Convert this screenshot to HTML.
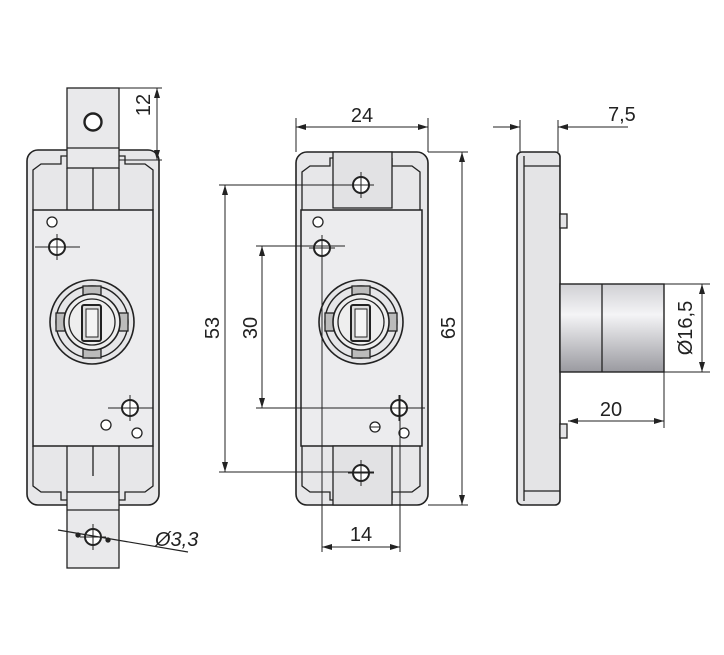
<!DOCTYPE html>
<html><head><meta charset="utf-8"><style>
html,body{margin:0;padding:0;background:#fff}
svg{display:block}
text{font-family:"Liberation Sans",sans-serif;font-size:20px;fill:#222}
</style></head><body>
<svg width="724" height="655" viewBox="0 0 724 655" xmlns="http://www.w3.org/2000/svg">
<defs>
<marker id="a" viewBox="0 0 10 6" refX="10" refY="3" markerWidth="10" markerHeight="6" orient="auto-start-reverse" markerUnits="userSpaceOnUse"><path d="M0,0 L10,3 L0,6z" fill="#222"/></marker>
<linearGradient id="cyl" x1="0" y1="0" x2="0" y2="1"><stop offset="0" stop-color="#d0d0d4"/><stop offset="0.35" stop-color="#f4f4f6"/><stop offset="1" stop-color="#9a9aa0"/></linearGradient>
<g id="lock">
<circle r="42" fill="#e6e6e8" stroke="#222" stroke-width="1.6"/>
<circle r="36" fill="none" stroke="#222" stroke-width="1.4"/>
<rect x="-9" y="-36" width="18" height="9" fill="#bbb" stroke="#222" stroke-width="1.3"/>
<rect x="-9" y="27" width="18" height="9" fill="#bbb" stroke="#222" stroke-width="1.3"/>
<rect x="-36" y="-9" width="9" height="18" fill="#bbb" stroke="#222" stroke-width="1.3"/>
<rect x="27" y="-9" width="9" height="18" fill="#bbb" stroke="#222" stroke-width="1.3"/>
<circle r="28" fill="#eee" stroke="#222" stroke-width="1.6"/>
<circle r="23" fill="none" stroke="#222" stroke-width="1.3"/>
<rect x="-10" y="-17" width="19" height="36" rx="2" fill="#ddd" stroke="#222" stroke-width="2"/>
<rect x="-6" y="-13" width="12" height="28" fill="#f4f4f4" stroke="#222" stroke-width="1"/>
</g>
<g id="hole"><circle r="8" fill="#fff" stroke="#222" stroke-width="2"/><line x1="-13" y1="0" x2="13" y2="0" stroke="#222" stroke-width="1"/><line x1="0" y1="-13" x2="0" y2="13" stroke="#222" stroke-width="1"/></g>
</defs>
<g stroke="#222" fill="none" stroke-width="1.3">
<!-- LEFT VIEW -->
<rect x="27" y="150" width="132" height="355" rx="11" fill="#e7e7e9" stroke-width="1.6"/>
<path d="M33,210 V170 l8,-6 h20 v-8 h6 M119,156 h6 v8 h20 l8,6 V210"/>
<rect x="67" y="88" width="52" height="80" fill="#e9e9eb"/>
<line x1="67" y1="148" x2="119" y2="148"/>
<path d="M67,168 V210 M119,168 V210 M93,168 V210"/>
<circle cx="93" cy="122" r="8.5" fill="#fff" stroke-width="2.4"/>
<rect x="33" y="210" width="120" height="236" fill="#ececee" stroke-width="1.5"/>
<path d="M33,446 V486 l8,6 h20 v8 h6 M119,500 h6 v-8 h20 l8,-6 V446"/>
<path d="M93,446 v30 M67,446 v46 M119,446 v46"/>
<rect x="67" y="492" width="52" height="76" fill="#e9e9eb"/>
<line x1="67" y1="510" x2="119" y2="510"/>
<circle cx="52" cy="222" r="5" fill="#fff"/>
<use href="#hole" x="57" y="247"/>
<line x1="35" y1="247" x2="80" y2="247" stroke-width="1"/>
<use href="#lock" x="92" y="322"/>
<use href="#hole" x="130" y="408"/>
<line x1="108" y1="408" x2="153" y2="408" stroke-width="1"/>
<circle cx="106" cy="425" r="5" fill="#fff"/>
<circle cx="137" cy="433" r="5" fill="#fff"/>
<use href="#hole" x="93" y="537"/>
<line x1="58" y1="530" x2="188" y2="552" stroke-width="1.2"/>
<circle cx="78" cy="535" r="2" fill="#222"/><circle cx="108" cy="540" r="2" fill="#222"/>
<!-- 12 dim -->
<line x1="119" y1="88" x2="162" y2="88" stroke-width="1"/>
<line x1="119" y1="160" x2="162" y2="160" stroke-width="1"/>
<line x1="157" y1="88" x2="157" y2="160" stroke-width="1" marker-start="url(#a)" marker-end="url(#a)"/>

<!-- MIDDLE VIEW -->
<rect x="296" y="152" width="132" height="353" rx="11" fill="#e7e7e9" stroke-width="1.6"/>
<path d="M302,210 V172 l8,-6 h20 v-8 h5 M392,158 v8 h20 l8,6 V210"/>
<rect x="333" y="152" width="59" height="56" fill="#e2e2e4"/>
<rect x="301" y="210" width="121" height="236" fill="#ececee" stroke-width="1.5"/>
<path d="M302,446 V486 l8,6 h20 v8 h5 M392,500 v-8 h20 l8,-6 V446"/>
<rect x="333" y="446" width="59" height="59" fill="#e2e2e4"/>
<circle cx="318" cy="222" r="5" fill="#fff"/>
<use href="#hole" x="322" y="248"/>
<use href="#lock" x="361" y="322"/>
<use href="#hole" x="399" y="408"/>
<circle cx="375" cy="427" r="5" fill="#fff"/><line x1="370" y1="427" x2="380" y2="427" stroke-width="1"/>
<circle cx="404" cy="433" r="5" fill="#fff"/>
<use href="#hole" x="361" y="185"/>
<use href="#hole" x="361" y="473"/>
<g stroke-width="1">
<line x1="296" y1="118" x2="296" y2="152"/><line x1="428" y1="118" x2="428" y2="152"/>
<line x1="296" y1="127" x2="428" y2="127" marker-start="url(#a)" marker-end="url(#a)"/>
<line x1="428" y1="152" x2="468" y2="152"/><line x1="428" y1="505" x2="468" y2="505"/>
<line x1="462" y1="152" x2="462" y2="505" marker-start="url(#a)" marker-end="url(#a)"/>
<line x1="219" y1="185" x2="374" y2="185"/><line x1="219" y1="472" x2="374" y2="472"/>
<line x1="225" y1="185" x2="225" y2="472" marker-start="url(#a)" marker-end="url(#a)"/>
<line x1="256" y1="246" x2="345" y2="246"/><line x1="256" y1="408" x2="425" y2="408"/>
<line x1="262" y1="246" x2="262" y2="408" marker-start="url(#a)" marker-end="url(#a)"/>
<line x1="322" y1="248" x2="322" y2="552"/><line x1="400" y1="395" x2="400" y2="552"/>
<line x1="322" y1="547" x2="400" y2="547" marker-start="url(#a)" marker-end="url(#a)"/>
</g>

<!-- RIGHT VIEW -->
<rect x="517" y="152" width="43" height="353" rx="5" fill="#e4e4e6" stroke-width="1.6"/>
<line x1="524" y1="156" x2="524" y2="501"/>
<line x1="524" y1="166" x2="560" y2="166"/><line x1="524" y1="491" x2="560" y2="491"/>
<rect x="560" y="214" width="7" height="14" fill="#e4e4e6"/>
<rect x="560" y="424" width="7" height="14" fill="#e4e4e6"/>
<rect x="560" y="284" width="104" height="88" fill="url(#cyl)" stroke-width="1.4"/>
<line x1="602" y1="284" x2="602" y2="372"/>
<g stroke-width="1">
<line x1="520" y1="120" x2="520" y2="152"/><line x1="558" y1="120" x2="558" y2="152"/>
<line x1="493" y1="127" x2="520" y2="127" marker-end="url(#a)"/>
<line x1="584" y1="127" x2="558" y2="127" marker-end="url(#a)"/>
<line x1="558" y1="127" x2="628" y2="127"/>
<line x1="664" y1="284" x2="710" y2="284"/><line x1="664" y1="372" x2="710" y2="372"/>
<line x1="702" y1="284" x2="702" y2="372" marker-start="url(#a)" marker-end="url(#a)"/>
<line x1="664" y1="372" x2="664" y2="428"/>
<line x1="568" y1="421" x2="664" y2="421" marker-start="url(#a)" marker-end="url(#a)"/>
</g>
</g>
<text x="143" y="112" transform="rotate(-90 143 105)" text-anchor="middle">12</text>
<text x="362" y="122" text-anchor="middle">24</text>
<text x="608" y="121">7,5</text>
<text x="448" y="335" transform="rotate(-90 448 328)" text-anchor="middle">65</text>
<text x="212" y="335" transform="rotate(-90 212 328)" text-anchor="middle">53</text>
<text x="250" y="335" transform="rotate(-90 250 328)" text-anchor="middle">30</text>
<text x="685" y="335" transform="rotate(-90 685 328)" text-anchor="middle">Ø16,5</text>
<text x="611" y="416" text-anchor="middle">20</text>
<text x="361" y="541" text-anchor="middle">14</text>
<text x="155" y="546" font-style="italic">Ø3,3</text>
</svg>
</body></html>
